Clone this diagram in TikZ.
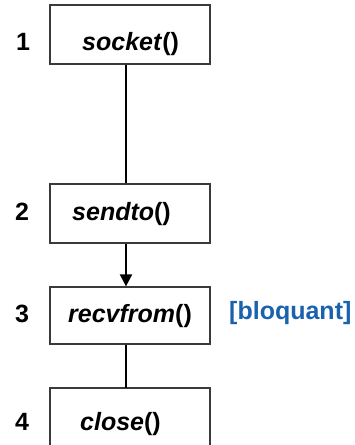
\documentclass[tikz,border=0pt]{standalone}
\usepackage{fontspec}
\setmainfont{Liberation Sans}
\usetikzlibrary{arrows.meta}
\definecolor{blockblue}{HTML}{1A62AE}
\definecolor{boxgray}{HTML}{3A3A3A}
\tikzset{
  callbox/.style={draw=boxgray, line width=1.3pt, inner sep=0pt, minimum width=160pt},
  link/.style={draw=black, line width=2pt},
  steplabel/.style={anchor=base west, inner sep=0pt, font=\fontsize{25}{25}\selectfont\bfseries},
  calltext/.style={anchor=base west, inner sep=0pt, font=\fontsize{25}{25}\selectfont\bfseries},
}
\newcommand{\fn}[1]{\textit{#1}()}
\begin{document}
\begin{tikzpicture}[x=1pt,y=-1pt]
  \useasboundingbox (0,0) rectangle (354,445);
  % call boxes
  \node[callbox, minimum height=59pt] (b1) at (130,34.5) {};
  \node[callbox, minimum height=59pt] (b2) at (130,213.5) {};
  \node[callbox, minimum height=57pt] (b3) at (130,315.5) {};
  % last box runs past the lower edge
  \draw[draw=boxgray, line width=1.3pt] (50,447) -- (50,388) -- (210,388) -- (210,447);
  \coordinate (b4) at (126,388);
  % connectors
  \draw[link] ([xshift=-4pt]b1.south) -- ([xshift=-4pt]b2.north);
  \draw[link, -{Triangle[length=12pt,width=12pt]}] ([xshift=-4pt]b2.south) -- ([xshift=-4pt]b3.north);
  \draw[link] ([xshift=-4pt]b3.south) -- (b4);
  % step numbers
  \node[steplabel, name=n1] at (16,50) {1};
  \node[steplabel, name=n2] at (15,220) {2};
  \node[steplabel, name=n3] at (15,322) {3};
  \node[steplabel, name=n4] at (15,430) {4};
  % call names
  \node[calltext, name=t1] at (82,50) {\fn{socket}};
  \node[calltext, name=t2] at (72,220) {\fn{sendto}};
  \node[calltext, name=t3] at (68,322) {\fn{recvfrom}};
  \node[calltext, name=t4] at (80,430) {\fn{close}};
  \node[calltext, name=blk, text=blockblue] at (229,319) {[bloquant]};
\end{tikzpicture}
\end{document}
